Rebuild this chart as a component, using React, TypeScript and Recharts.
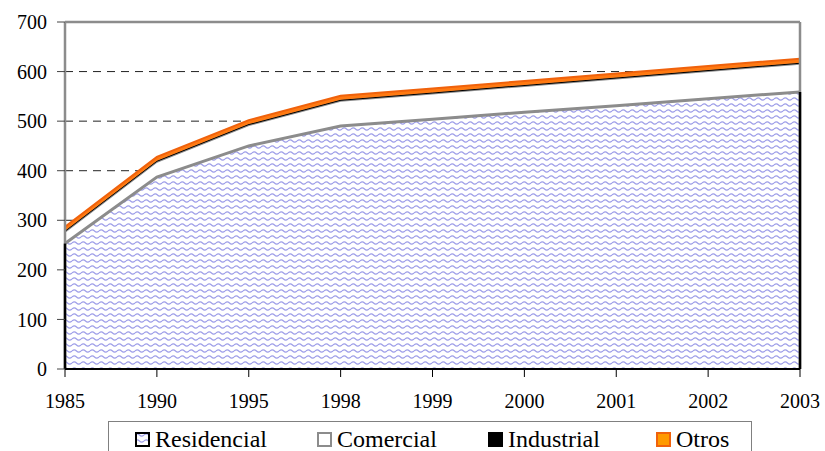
import React from 'react';
import {
  ComposedChart,
  Area,
  Line,
  XAxis,
  YAxis,
  CartesianGrid,
  ReferenceLine,
  Legend,
} from 'recharts';

const years = ['1985', '1990', '1995', '1998', '1999', '2000', '2001', '2002', '2003'];
const residencial = [253, 387, 450, 490, 504, 518, 531, 545, 559];
const comercial = [24, 31, 42, 51, 52, 53, 55, 56, 57];
const industrial = [2, 2, 2, 2, 2, 2, 2, 2, 2];
const otros = [8, 8, 8, 8, 8, 8, 8, 8, 8];
const yTicks = [0, 100, 200, 300, 400, 500, 600, 700];

const seriesNames = ['Residencial', 'Comercial', 'Industrial', 'Otros'];

const data = years.map((year, i) => ({
  year,
  residencial: residencial[i],
  comercial: comercial[i],
  industrial: industrial[i],
  otros: otros[i],
}));

const FONT = 'Liberation Serif';
const GRAY = '#8c8c8c';
const ORANGE_STROKE = '#f0620c';
const ORANGE_FILL = '#ff7a12';

const WavePattern = ({ id }: { id: string }) => (
  <pattern id={id} width={9} height={6} patternUnits="userSpaceOnUse">
    <rect x={0} y={0} width={9} height={6} fill="#ffffff" />
    <path
      d="M0 3 Q2.25 0.8 4.5 3 T9 3"
      stroke="#9c9ce8"
      strokeWidth={1.1}
      fill="none"
    />
  </pattern>
);

const LegendIcon = ({ index }: { index: number }) => {
  const size = 15;
  if (index === 0) {
    return (
      <svg width={size} height={size} style={{ display: 'block' }}>
        <defs>
          <WavePattern id="waveLegend" />
        </defs>
        <rect x={1} y={1} width={13} height={13} fill="url(#waveLegend)" stroke="#000" strokeWidth={2} />
      </svg>
    );
  }
  const styles = [
    null,
    { fill: '#ffffff', stroke: GRAY },
    { fill: '#000000', stroke: '#000000' },
    { fill: '#ff9a00', stroke: ORANGE_STROKE },
  ][index] as { fill: string; stroke: string };
  return (
    <svg width={size} height={size} style={{ display: 'block' }}>
      <rect x={1} y={1} width={13} height={13} fill={styles.fill} stroke={styles.stroke} strokeWidth={2} />
    </svg>
  );
};

const renderLegend = () => (
  <div
    style={{
      boxSizing: 'border-box',
      width: '100%',
      height: '100%',
      border: '1.5px solid #808080',
      background: '#fff',
      display: 'flex',
      alignItems: 'flex-start',
      paddingLeft: 26,
      paddingTop: 6,
      fontFamily: FONT,
      fontSize: 24,
      lineHeight: '22px',
      color: '#000',
    }}
  >
    {seriesNames.map((name, i) => (
      <div
        key={name}
        style={{
          display: 'flex',
          alignItems: 'center',
          marginRight: i === 0 ? 50 : i === 1 ? 51 : 56,
        }}
      >
        <div style={{ marginRight: 5, marginTop: 1 }}>
          <LegendIcon index={i} />
        </div>
        <span style={{ whiteSpace: 'nowrap', display: 'inline-block' }}>{name}</span>
      </div>
    ))}
  </div>
);

export default function App() {
  return (
    <div style={{ position: 'absolute', left: 0, top: 0, width: 825, height: 451, background: '#fff' }}>
      <ComposedChart
        width={825}
        height={451}
        data={data}
        margin={{ top: 22, right: 25, left: 0, bottom: 0 }}
      >
        <defs>
          <WavePattern id="wave" />
        </defs>
        <CartesianGrid horizontal vertical={false} stroke="#222" strokeDasharray="8 6" strokeWidth={1} />
        <XAxis
          dataKey="year"
          type="category"
          scale="point"
          padding={{ left: 0, right: 0 }}
          height={42}
          axisLine={{ stroke: '#000', strokeWidth: 2 }}
          tickLine={{ stroke: '#000', strokeWidth: 1 }}
          tickSize={8}
          tickMargin={17}
          tick={{ fill: '#000', fontFamily: FONT, fontSize: 20 }}
          interval={0}
        />
        <YAxis
          domain={[0, 700]}
          ticks={yTicks}
          width={65}
          axisLine={false}
          tickLine={{ stroke: '#444', strokeWidth: 1 }}
          tickSize={8}
          tickMargin={10}
          tick={{ fill: '#000', fontFamily: FONT, fontSize: 20 }}
          interval={0}
        />
        <Legend
          verticalAlign="bottom"
          content={renderLegend}
          wrapperStyle={{ position: 'absolute', left: 108, top: 421, bottom: 'auto', width: 644, height: 40 }}
        />
        <Area
          type="linear"
          dataKey="residencial"
          name="Residencial"
          stackId="1"
          fill="url(#wave)"
          fillOpacity={1}
          stroke="none"
          isAnimationActive={false}
        />
        <Area
          type="linear"
          dataKey="comercial"
          name="Comercial"
          stackId="1"
          fill="#ffffff"
          fillOpacity={1}
          stroke={GRAY}
          strokeWidth={2}
          isAnimationActive={false}
        />
        <Area
          type="linear"
          dataKey="industrial"
          name="Industrial"
          stackId="1"
          fill="#000000"
          fillOpacity={1}
          stroke="#000000"
          strokeWidth={0.8}
          isAnimationActive={false}
        />
        <Area
          type="linear"
          dataKey="otros"
          name="Otros"
          stackId="1"
          fill={ORANGE_FILL}
          fillOpacity={1}
          stroke={ORANGE_STROKE}
          strokeWidth={2}
          isAnimationActive={false}
        />
        <Line
          type="linear"
          dataKey="residencial"
          stroke={GRAY}
          strokeWidth={3}
          dot={false}
          activeDot={false}
          legendType="none"
          isAnimationActive={false}
        />
        <ReferenceLine y={700} stroke={GRAY} strokeWidth={2.5} />
        <ReferenceLine x={years[0]} stroke={GRAY} strokeWidth={2.5} />
        <ReferenceLine x={years[years.length - 1]} stroke={GRAY} strokeWidth={2.5} />
        <ReferenceLine
          segment={[
            { x: years[0], y: 0 },
            { x: years[0], y: residencial[0] },
          ]}
          stroke="#000"
          strokeWidth={2.5}
        />
        <ReferenceLine
          segment={[
            { x: years[years.length - 1], y: 0 },
            { x: years[years.length - 1], y: residencial[residencial.length - 1] },
          ]}
          stroke="#000"
          strokeWidth={2.5}
        />
      </ComposedChart>
    </div>
  );
}
